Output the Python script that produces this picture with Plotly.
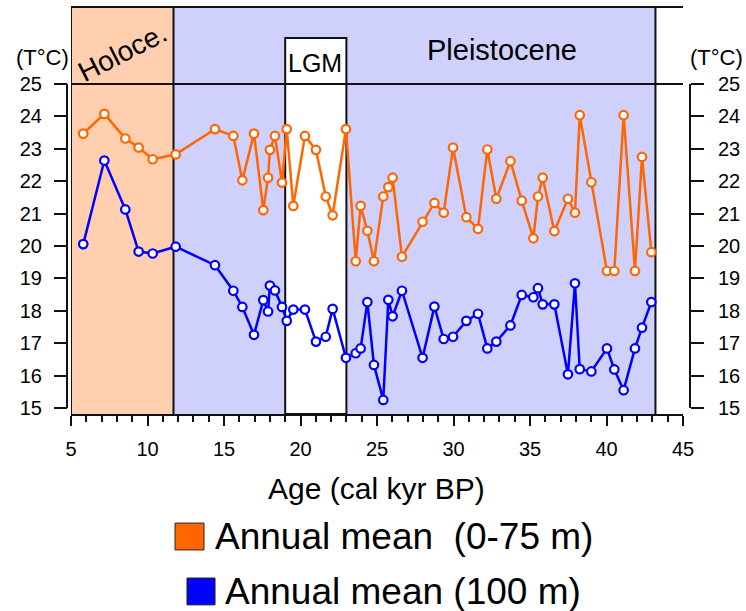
import plotly.graph_objects as go

# ---- data ----
age_kyr = [5.80, 7.18, 8.55, 9.42, 10.34, 11.84, 14.41, 15.61, 16.20, 16.96,
           17.57, 17.88, 18.00, 18.33, 18.79, 19.10, 19.53, 20.29, 21.01, 21.65,
           22.10, 22.97, 23.61, 23.93, 24.37, 24.80, 25.41, 25.74, 26.02, 26.63,
           27.98, 28.75, 29.36, 29.97, 30.84, 31.60, 32.21, 32.80, 33.72, 34.46,
           35.22, 35.52, 35.83, 36.59, 37.48, 37.94, 38.25, 39.01, 40.03, 40.51,
           41.12, 41.86, 42.32, 42.93]

t_0_75m = [23.47, 24.08, 23.32, 23.04, 22.68, 22.83, 23.61, 23.40, 22.03, 23.47,
           21.11, 22.11, 22.97, 23.40, 21.96, 23.61, 21.24, 23.40, 22.97, 21.53,
           20.95, 23.61, 19.53, 21.24, 20.47, 19.53, 21.53, 21.82, 22.11, 19.67,
           20.75, 21.33, 21.03, 23.04, 20.89, 20.53, 22.98, 21.46, 22.62, 21.40,
           20.24, 21.53, 22.11, 20.46, 21.46, 21.03, 24.04, 21.97, 19.23, 19.23,
           24.04, 19.23, 22.75, 19.81]

t_100m = [20.06, 22.64, 21.13, 19.83, 19.77, 19.98, 19.41, 18.62, 18.12, 17.26,
          18.33, 17.98, 18.78, 18.63, 18.12, 17.69, 18.04, 18.04, 17.05, 17.20,
          18.06, 16.55, 16.69, 16.84, 18.27, 16.33, 15.25, 18.34, 17.83, 18.62,
          16.55, 18.13, 17.13, 17.20, 17.69, 17.91, 16.84, 17.05, 17.55, 18.49,
          18.42, 18.70, 18.20, 18.20, 16.04, 18.85, 16.20, 16.13, 16.84, 16.19,
          15.55, 16.84, 17.48, 18.27]

y_ticks = list(range(15, 26))
x_ticks = list(range(5, 46, 5))

# period boundaries (kyr BP)
holocene = (5.0, 11.7)
pleistocene = (11.7, 43.2)
lgm = (19.0, 23.0)
lgm_top = 26.42
y_range = [14.815, 27.38]
x_range = [5, 45]

ORANGE = "#FF6600"
BLUE = "#0000FF"
FONT = "Liberation Sans, Arial, sans-serif"

fig = go.Figure()

fig.add_trace(go.Scatter(
    x=age_kyr, y=t_0_75m, mode="lines+markers", name="Annual mean (0-75 m)",
    line=dict(color=ORANGE, width=2.5),
    marker=dict(symbol="circle", size=8.5, color="white", line=dict(color=ORANGE, width=2.2)),
    showlegend=False, cliponaxis=False))
fig.add_trace(go.Scatter(
    x=age_kyr, y=t_100m, mode="lines+markers", name="Annual mean (100 m)",
    line=dict(color=BLUE, width=2.5),
    marker=dict(symbol="circle", size=8.5, color="white", line=dict(color=BLUE, width=2.2)),
    showlegend=False, cliponaxis=False))
# invisible trace to activate right axis
fig.add_trace(go.Scatter(x=[None], y=[None], yaxis="y2", showlegend=False, hoverinfo="skip"))

shapes = []
# filled periods
shapes.append(dict(type="rect", xref="x", yref="paper", x0=holocene[0], x1=holocene[1],
                   y0=0, y1=1, fillcolor="#FFCFB0", line=dict(width=0), layer="below"))
shapes.append(dict(type="rect", xref="x", yref="paper", x0=pleistocene[0], x1=pleistocene[1],
                   y0=0, y1=1, fillcolor="#D0D0FC", line=dict(width=0), layer="below"))
shapes.append(dict(type="rect", xref="x", yref="y", x0=lgm[0], x1=lgm[1],
                   y0=y_range[0], y1=lgm_top, fillcolor="white",
                   line=dict(color="#111", width=2), layer="below"))
# frame lines
for xv in (holocene[0], holocene[1], pleistocene[1]):
    shapes.append(dict(type="line", xref="x", yref="paper", x0=xv, x1=xv, y0=0, y1=1,
                       line=dict(color="#111", width=2), layer="below"))
shapes.append(dict(type="line", xref="x", yref="paper", x0=x_range[0], x1=x_range[1],
                   y0=1, y1=1, line=dict(color="#111", width=2), layer="below"))
shapes.append(dict(type="line", xref="x", yref="y", x0=x_range[0], x1=x_range[1],
                   y0=25, y1=25, line=dict(color="#111", width=2), layer="below"))
# y axis brackets
for xp in (0, 1):
    shapes.append(dict(type="line", xref="paper", yref="y", x0=xp, x1=xp, y0=15, y1=25,
                       line=dict(color="#111", width=2)))
# legend swatches
shapes.append(dict(type="rect", xref="paper", yref="paper", x0=0.1734, x1=0.2199,
                   y0=-0.334, y1=-0.268, fillcolor=ORANGE, line=dict(color="#222", width=1)))
shapes.append(dict(type="rect", xref="paper", yref="paper", x0=0.1926, x1=0.2376,
                   y0=-0.469, y1=-0.403, fillcolor=BLUE, line=dict(color="#222", width=1)))

annotations = [
    dict(text="Holoce.", x=8.35, y=25.98, xref="x", yref="y", textangle=-27,
         xanchor="center", yanchor="middle",
         showarrow=False, font=dict(size=28, color="black", family=FONT)),
    dict(text="Pleistocene", x=33.2, y=26.05, xref="x", yref="y",
         xanchor="center", yanchor="middle",
         showarrow=False, font=dict(size=29, color="black", family=FONT)),
    dict(text="LGM", x=20.95, y=25.65, xref="x", yref="y",
         xanchor="center", yanchor="middle",
         showarrow=False, font=dict(size=25, color="black", family=FONT)),
    dict(text="(T°C)", x=-0.040, y=0.875, xref="paper", yref="paper",
         xanchor="center", yanchor="middle",
         showarrow=False, font=dict(size=22, color="black", family=FONT)),
    dict(text="(T°C)", x=1.042, y=0.877, xref="paper", yref="paper",
         xanchor="center", yanchor="middle",
         showarrow=False, font=dict(size=22, color="black", family=FONT)),
    dict(text="Age (cal kyr BP)", x=0.496, y=-0.182, xref="paper", yref="paper",
         xanchor="center", yanchor="middle",
         showarrow=False, font=dict(size=30, color="black", family=FONT)),
    dict(text="Annual mean&nbsp; (0-75 m)", x=0.234, y=-0.302, xref="paper", yref="paper",
         xanchor="left", yanchor="middle",
         showarrow=False, font=dict(size=37, color="black", family=FONT)),
    dict(text="Annual mean (100 m)", x=0.250, y=-0.437, xref="paper", yref="paper",
         xanchor="left", yanchor="middle",
         showarrow=False, font=dict(size=37, color="black", family=FONT)),
]

yax = dict(range=y_range, tickmode="array", tickvals=y_ticks, ticktext=[str(v) for v in y_ticks],
           ticks="outside", ticklen=13, tickwidth=2, tickcolor="#111",
           showline=False, showgrid=False, zeroline=False, automargin=False,
           tickfont=dict(size=20, color="black", family=FONT),
           anchor="free")

fig.update_layout(
    width=746, height=611,
    margin=dict(l=67, r=56, t=7, b=197, autoexpand=False),
    paper_bgcolor="white", plot_bgcolor="white",
    xaxis=dict(range=x_range, domain=[4 / 623, 616 / 623], tick0=5, dtick=5,
               ticks="outside", ticklen=10, tickwidth=2, tickcolor="#111",
               showline=True, linewidth=2, linecolor="#111",
               showgrid=False, zeroline=False, automargin=False,
               minor=dict(dtick=1, tick0=5, ticks="outside", ticklen=6, tickwidth=1.5,
                          tickcolor="#111", showgrid=False),
               tickfont=dict(size=20, color="black", family=FONT), ticklabelstandoff=6),
    yaxis=dict(**yax, side="left", position=0, ticklabelstandoff=8),
    yaxis2=dict(**yax, side="right", position=1, overlaying="y", ticklabelstandoff=10),
    shapes=shapes, annotations=annotations, showlegend=False,
)

fig.write_html("out.html")
